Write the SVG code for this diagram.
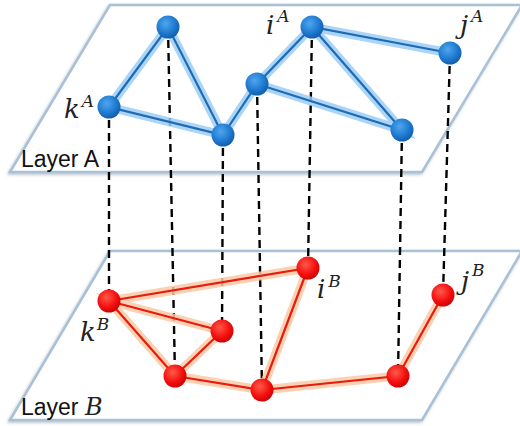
<svg xmlns="http://www.w3.org/2000/svg" width="520" height="426" viewBox="0 0 520 426">
<defs>
<style>
.plane{fill:#ffffff;stroke:#a9c1d6;stroke-width:2.5;stroke-linejoin:miter}
.dash{stroke:#000;stroke-width:2.4;stroke-dasharray:8 5;fill:none}
.haloA{stroke:#9ccdf4;stroke-width:9;stroke-linecap:round;fill:none;opacity:0.85}
.edgeA{stroke:#1b6cb5;stroke-width:2.2;stroke-linecap:round;fill:none}
.haloB{stroke:#f9c9a4;stroke-width:9;stroke-linecap:round;fill:none;opacity:0.85}
.edgeB{stroke:#ea1a0c;stroke-width:2.2;stroke-linecap:round;fill:none}
.nA{fill:url(#gA)}
.nB{fill:url(#gB)}
.math{font-family:"DejaVu Serif","Liberation Serif",serif;font-style:italic;fill:#222}
.lbl{font-family:"Liberation Sans","Open Sans",sans-serif;font-size:22px;fill:#111}
</style>
<radialGradient id="gA" cx="0.4" cy="0.35" r="0.7">
<stop offset="0" stop-color="#4fa6ee"/>
<stop offset="0.6" stop-color="#1f7ad0"/>
<stop offset="1" stop-color="#0f5aa5"/>
</radialGradient>
<radialGradient id="gB" cx="0.4" cy="0.35" r="0.7">
<stop offset="0" stop-color="#ff5a4a"/>
<stop offset="0.6" stop-color="#f51010"/>
<stop offset="1" stop-color="#c80000"/>
</radialGradient>
<filter id="sh" x="-10%" y="-10%" width="120%" height="120%">
<feDropShadow dx="-1" dy="1.5" stdDeviation="1.5" flood-color="#8a9aa8" flood-opacity="0.6"/>
</filter>
</defs>

<g id="layerB-plane"><polygon class="plane" filter="url(#sh)" points="110,251 522,251 422,420 10,420"/></g>
<g id="layerA-plane"><polygon class="plane" filter="url(#sh)" points="110,5 522,5 422,172 10,172"/></g>

<g id="connectors">
<g id="interlayer">
<line class="dash" x1="109" y1="107" x2="109" y2="301"/>
<line class="dash" x1="168" y1="27" x2="175" y2="376"/>
<line class="dash" x1="223" y1="135" x2="222" y2="331"/>
<line class="dash" x1="257" y1="84" x2="262" y2="390"/>
<line class="dash" x1="312" y1="27" x2="308" y2="268"/>
<line class="dash" x1="402" y1="130" x2="398" y2="376"/>
<line class="dash" x1="450" y1="53" x2="443" y2="295"/>
</g>
<g id="edgesA">
<path class="haloA" d="M109,107 L168,27 L223,135 Z M223,135 L257,84 L312,27 L450,53 M312,27 L402,130 L257,84"/>
<path class="edgeA" d="M109,107 L168,27 L223,135 Z M223,135 L257,84 L312,27 L450,53 M312,27 L402,130 L257,84"/>
</g>
<g id="edgesB">
<path class="haloB" d="M109,301 L308,268 M109,301 L222,331 L175,376 Z M175,376 L262,390 L308,268 M262,390 L398,376 L443,295"/>
<path class="edgeB" d="M109,301 L308,268 M109,301 L222,331 L175,376 Z M175,376 L262,390 L308,268 M262,390 L398,376 L443,295"/>
</g>
</g>

<g id="kA"><circle class="nA" cx="109" cy="107" r="11.5"/></g>
<g id="a2"><circle class="nA" cx="168" cy="27" r="11.5"/></g>
<g id="a3"><circle class="nA" cx="223" cy="135" r="11.5"/></g>
<g id="a4"><circle class="nA" cx="257" cy="84" r="11.5"/></g>
<g id="iA"><circle class="nA" cx="312" cy="27" r="11.5"/></g>
<g id="a6"><circle class="nA" cx="402" cy="130" r="11.5"/></g>
<g id="jA"><circle class="nA" cx="450" cy="53" r="11.5"/></g>

<g id="kB"><circle class="nB" cx="109" cy="301" r="11.5"/></g>
<g id="b2"><circle class="nB" cx="222" cy="331" r="11.5"/></g>
<g id="b3"><circle class="nB" cx="175" cy="376" r="11.5"/></g>
<g id="b4"><circle class="nB" cx="262" cy="390" r="11.5"/></g>
<g id="iB"><circle class="nB" cx="308" cy="268" r="11.5"/></g>
<g id="b6"><circle class="nB" cx="398" cy="376" r="11.5"/></g>
<g id="jB"><circle class="nB" cx="443" cy="295" r="11.5"/></g>

<g id="labels">
<text class="math" x="64" y="118" font-size="26">k<tspan font-size="17" dx="2" dy="-11">A</tspan></text>
<text class="math" x="266" y="34" font-size="26">i<tspan font-size="17" dx="3" dy="-12">A</tspan></text>
<text class="math" x="460" y="34" font-size="26">j<tspan font-size="17" dx="3" dy="-12">A</tspan></text>
<text class="math" x="80" y="341" font-size="26">k<tspan font-size="17" dx="1" dy="-11">B</tspan></text>
<text class="math" x="317" y="298" font-size="26">i<tspan font-size="17" dx="3" dy="-11">B</tspan></text>
<text class="math" x="461" y="290" font-size="26">j<tspan font-size="17" dx="3" dy="-14">B</tspan></text>
<text class="lbl" x="21" y="167" font-size="23" style="font-size:23px">Layer A</text>
<text class="lbl" x="21" y="415" style="font-size:23px">Layer <tspan class="math" font-size="24" fill="#111">B</tspan></text>
</g>
</svg>
